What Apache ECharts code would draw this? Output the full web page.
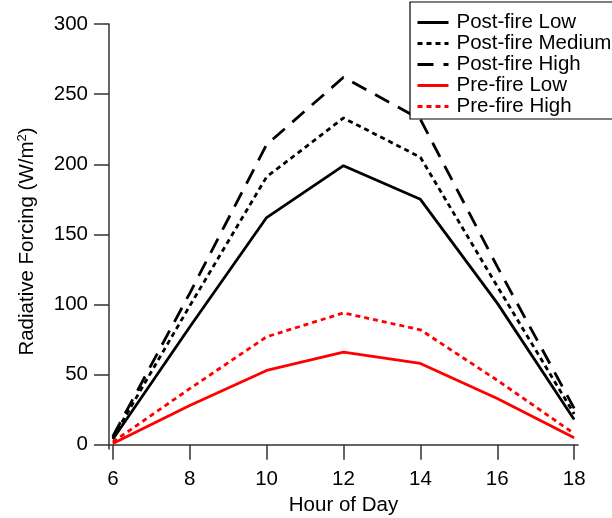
<!DOCTYPE html>
<html>
<head>
<meta charset="utf-8">
<script src="https://cdn.jsdelivr.net/npm/echarts@6/dist/echarts.min.js"></script>
<style>
  html, body { margin: 0; padding: 0; background: #fff; }
  #main { width: 612px; height: 518px; }
</style>
</head>
<body>
<div id="main"></div>
<script>
// hours of day and radiative forcing (W/m2)
var hours = [6, 8, 10, 12, 14, 16, 18];
var postLow = [4, 84, 162, 199, 175, 101, 18];
var postMedium = [5, 99, 191, 233, 205, 113, 22];
var postHigh = [6, 108, 214, 262, 232, 127, 26];
var preLow = [1, 28, 53, 66, 58, 33, 5];
var preHigh = [2, 40, 77, 94, 82, 46, 8];
var xTicks = [6, 8, 10, 12, 14, 16, 18];
var yTicks = [0, 50, 100, 150, 200, 250, 300];

function pairs(vals) {
    return hours.map(function (h, i) { return [h, vals[i]]; });
}

var font = '"Liberation Sans", Arial, Helvetica, sans-serif';
var fs = 20.5;

function makeSeries(name, vals, color, type) {
    return {
        name: name,
        type: 'line',
        symbol: 'none',
        data: pairs(vals),
        lineStyle: { color: color, width: 2.8, type: type, opacity: 1 },
        itemStyle: { color: color, opacity: 0 },
        emphasis: { disabled: true }
    };
}

var myChart = echarts.init(document.getElementById('main'));
var option = {
    animation: false,
    backgroundColor: '#fff',
    grid: { left: 109, right: 34, top: 24, bottom: 69, outerBoundsMode: 'none', containLabel: false },
    legend: {
        orient: 'vertical',
        left: 410,
        top: 2,
        padding: [10, 6, 2, 6],
        itemWidth: 31,
        itemHeight: 14,
        itemGap: 0,
        backgroundColor: '#fff',
        borderColor: '#000',
        borderWidth: 1.2,
        borderRadius: 0,
        itemStyle: { opacity: 0 },
        lineStyle: { width: 3 },
        textStyle: { fontFamily: font, fontSize: fs, color: '#000', lineHeight: 20.6, padding: [0, 0, 0, 3] },
        data: ['Post-fire Low', 'Post-fire Medium', 'Post-fire High', 'Pre-fire Low', 'Pre-fire High']
    },
    xAxis: {
        type: 'value',
        min: 5.9,
        max: 18.1,
        name: 'Hour of Day',
        nameLocation: 'middle',
        nameGap: 41,
        nameTextStyle: { fontFamily: font, fontSize: fs, color: '#000' },
        axisLine: { lineStyle: { color: '#333', width: 1.5 } },
        axisTick: { length: 15, customValues: xTicks, lineStyle: { color: '#333', width: 1.5 } },
        axisLabel: { customValues: xTicks, margin: 20, fontFamily: font, fontSize: fs, color: '#000' },
        splitLine: { show: false }
    },
    yAxis: {
        type: 'value',
        min: -3,
        max: 300,
        name: 'Radiative Forcing (W/m{sup|2})',
        nameLocation: 'middle',
        nameGap: 70,
        nameTextStyle: {
            fontFamily: font, fontSize: fs, color: '#000',
            padding: [0, 10, 0, 0],
            rich: { sup: { fontFamily: font, fontSize: 13, color: '#000', padding: [0, 0, 10, 0] } }
        },
        axisLine: { show: true, lineStyle: { color: '#333', width: 1.5 } },
        axisTick: { show: true, length: 15, customValues: yTicks, lineStyle: { color: '#333', width: 1.5 } },
        axisLabel: { customValues: yTicks, margin: 21, fontFamily: font, fontSize: fs, color: '#000' },
        splitLine: { show: false }
    },
    series: [
        makeSeries('Post-fire Low', postLow, '#000', 'solid'),
        makeSeries('Post-fire Medium', postMedium, '#000', [5, 4]),
        makeSeries('Post-fire High', postHigh, '#000', [16, 10]),
        makeSeries('Pre-fire Low', preLow, '#f00', 'solid'),
        makeSeries('Pre-fire High', preHigh, '#f00', [5, 4])
    ]
};
myChart.setOption(option);
</script>
</body>
</html>
